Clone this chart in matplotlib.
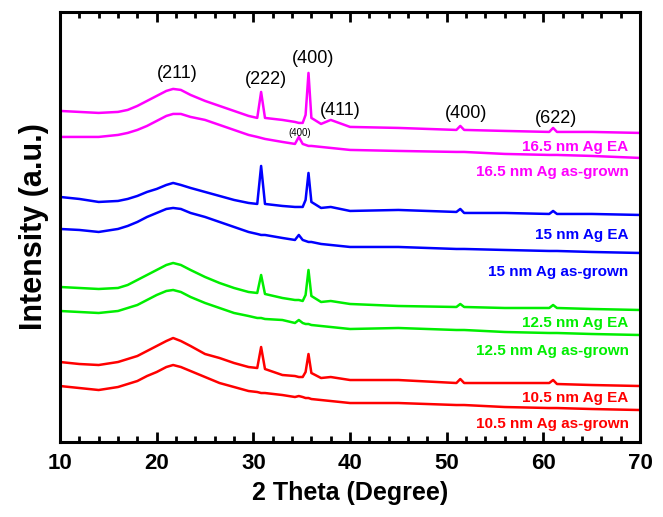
import matplotlib.pyplot as plt
from matplotlib.ticker import MultipleLocator

plt.rcParams['font.family'] = ['Liberation Sans', 'DejaVu Sans']

# 2-theta sample positions
two_theta = [10, 12, 14, 16, 17, 18, 19, 20, 21, 21.7, 22.5, 23.5, 25, 26.5, 28, 29.5,
             30.4, 30.8, 31.2, 33, 34.3, 34.7, 35.1, 35.4, 35.7, 36.0, 37, 38, 40, 45,
             51.0, 51.4, 51.8, 56, 60.6, 61.0, 61.4, 65, 70]

# intensities (a.u., already offset per trace)
ag165_ea = [331, 330, 329, 330, 332, 336, 341, 346, 351, 353, 352, 347, 341, 336, 331, 326,
            324, 350, 324, 322, 320, 319, 319, 327, 369, 324, 318, 322, 315, 314,
            312, 316, 312, 311, 310, 314, 310, 310, 309]
ag165_asg = [305, 305, 305, 307, 309, 312, 316, 321, 326, 328, 328, 325, 322, 317, 312, 307,
             305, 304, 303, 300, 298, 305, 298, 297, 296, 296, 295, 294, 292, 291,
             290, 290, 290, 288, 287, 287, 287, 286, 284]
ag15_ea = [245, 243, 240, 241, 243, 246, 250, 253, 257, 259, 257, 254, 250, 246, 242, 239,
           238, 276, 238, 236, 235, 235, 235, 242, 269, 240, 234, 235, 231, 232,
           230, 233, 229, 229, 228, 231, 228, 228, 227]
ag15_asg = [213, 212, 210, 213, 216, 220, 225, 229, 233, 234, 233, 229, 225, 220, 215, 210,
            208, 207, 207, 204, 202, 207, 202, 201, 200, 200, 198, 197, 195, 195,
            193, 193, 193, 192, 191, 191, 191, 190, 189]
ag125_ea = [155, 154, 153, 154, 157, 162, 167, 172, 177, 179, 177, 172, 165, 159, 154, 150,
            149, 167, 148, 144, 142, 142, 141, 147, 172, 146, 140, 141, 138, 136,
            135, 138, 135, 134, 134, 137, 134, 133, 132]
ag125_asg = [131, 130, 129, 131, 134, 137, 142, 147, 151, 152, 150, 145, 139, 134, 129, 126,
             124, 124, 123, 122, 119, 122, 119, 118, 118, 117, 116, 115, 113, 114,
             112, 112, 112, 110, 109, 109, 109, 108, 107]
ag105_ea = [80, 78, 77, 80, 83, 86, 91, 96, 101, 104, 101, 96, 88, 84, 79, 75,
            74, 95, 73, 67, 66, 65, 65, 70, 88, 69, 64, 65, 62, 62,
            59, 63, 59, 59, 59, 62, 58, 57, 56]
ag105_asg = [56, 54, 52, 55, 58, 61, 66, 70, 75, 77, 75, 71, 65, 59, 55, 51,
             50, 49, 49, 47, 45, 46, 45, 44, 44, 43, 42, 41, 39, 39,
             37, 37, 37, 35, 34, 34, 34, 33, 32]

series = [ag165_ea, ag165_asg, ag15_ea, ag15_asg, ag125_ea, ag125_asg, ag105_ea, ag105_asg]
names = ['16.5 nm Ag EA', '16.5 nm Ag as-grown', '15 nm Ag EA', '15 nm Ag as-grown',
         '12.5 nm Ag EA', '12.5 nm Ag as-grown', '10.5 nm Ag EA', '10.5 nm Ag as-grown']
colors = ['#ff00ff', '#ff00ff', '#0000ff', '#0000ff', '#00ee00', '#00ee00', '#ff0000', '#ff0000']
label_y = [295, 270, 207, 170, 119, 91, 44, 18]

# peak labels
peak_text = ['(211)', '(222)', '(400)', '(411)', '(400)', '(622)']
peak_x = [22.1, 31.3, 36.2, 39.0, 52.0, 61.3]
peak_y = [368, 362, 383, 331, 328, 323]

fig = plt.figure(figsize=(6.63, 5.17), dpi=100)
ax = fig.add_axes([0.0905, 0.145, 0.875, 0.832])

for vals, c in zip(series, colors):
    ax.plot(two_theta, vals, color=c, lw=1.8)

for name, c, yy in zip(names, colors, label_y):
    ax.text(68.8, yy, name, color=c, fontsize=11, fontweight='bold',
            ha='right', va='center')

for t, px, py in zip(peak_text, peak_x, peak_y):
    ax.text(px, py, t, fontsize=13, ha='center', va='center')
ax.text(34.8, 309, '(400)', fontsize=7, ha='center', va='center')

ax.set_xlim(10, 70)
ax.set_ylim(0, 430)
ax.set_yticks([])
ax.xaxis.set_major_locator(MultipleLocator(10))
ax.xaxis.set_minor_locator(MultipleLocator(2))
ax.tick_params(axis='x', which='both', direction='in', top=True, width=2)
ax.tick_params(axis='x', which='major', length=7, labelsize=16, pad=8)
ax.tick_params(axis='x', which='minor', length=4)
for lab in ax.get_xticklabels():
    lab.set_fontweight('bold')
for sp in ax.spines.values():
    sp.set_linewidth(2.2)

ax.set_xlabel('2 Theta (Degree)', fontsize=18, fontweight='bold', labelpad=5)
ax.set_ylabel('Intensity (a.u.)', fontsize=22, fontweight='bold', labelpad=8)

fig.savefig('out.png', dpi=100)
